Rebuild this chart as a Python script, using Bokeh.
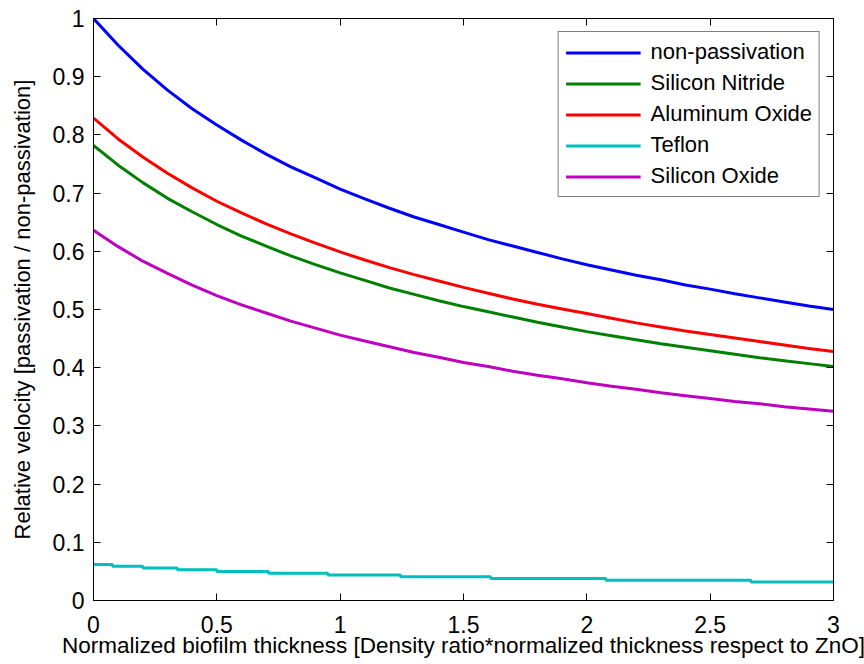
from bokeh.plotting import figure
from bokeh.models import LinearAxis, FixedTicker, Range1d, Legend, LegendItem
from bokeh.embed import file_html
from bokeh.resources import INLINE

# ---- data ----
x_vals = [0.0, 0.1, 0.2, 0.3, 0.4, 0.5, 0.6, 0.7, 0.8, 0.9, 1.0,
          1.1, 1.2, 1.3, 1.4, 1.5, 1.6, 1.7, 1.8, 1.9, 2.0,
          2.1, 2.2, 2.3, 2.4, 2.5, 2.6, 2.7, 2.8, 2.9, 3.0]

non_passivation = [1.000, 0.954, 0.913, 0.877, 0.845, 0.817, 0.791, 0.767, 0.745, 0.726, 0.707,
                   0.690, 0.674, 0.659, 0.646, 0.633, 0.620, 0.609, 0.598, 0.587, 0.577,
                   0.568, 0.559, 0.551, 0.542, 0.535, 0.527, 0.520, 0.513, 0.506, 0.500]

silicon_nitride = [0.782, 0.748, 0.718, 0.691, 0.668, 0.646, 0.626, 0.609, 0.592, 0.577, 0.563,
                   0.550, 0.537, 0.526, 0.515, 0.505, 0.496, 0.487, 0.478, 0.470, 0.462,
                   0.455, 0.448, 0.441, 0.435, 0.429, 0.423, 0.417, 0.412, 0.407, 0.402]

aluminum_oxide = [0.829, 0.793, 0.762, 0.734, 0.709, 0.686, 0.666, 0.647, 0.630, 0.614, 0.599,
                  0.585, 0.572, 0.560, 0.549, 0.538, 0.528, 0.518, 0.509, 0.501, 0.493,
                  0.485, 0.477, 0.470, 0.463, 0.457, 0.451, 0.445, 0.439, 0.433, 0.428]

silicon_oxide = [0.636, 0.608, 0.583, 0.562, 0.542, 0.524, 0.508, 0.494, 0.480, 0.468, 0.456,
                 0.446, 0.436, 0.426, 0.418, 0.409, 0.402, 0.394, 0.387, 0.381, 0.374,
                 0.368, 0.363, 0.357, 0.352, 0.347, 0.342, 0.338, 0.333, 0.329, 0.325]

# Teflon curve is drawn as a staircase (values quantised in the original)
teflon_x = [0.0, 0.077, 0.20, 0.34, 0.50, 0.71, 0.95, 1.245, 1.61, 2.077, 2.665, 3.0]
teflon_y = [0.062, 0.059, 0.056, 0.053, 0.050, 0.047, 0.044, 0.041, 0.038, 0.035, 0.032, 0.032]

series_names = ["non-passivation", "Silicon Nitride", "Aluminum Oxide", "Teflon", "Silicon Oxide"]
series_colors = ["#0000ff", "#008000", "#ff0000", "#00bfbf", "#bf00bf"]

x_ticks = [0, 0.5, 1, 1.5, 2, 2.5, 3]
x_tick_labels = ["0", "0.5", "1", "1.5", "2", "2.5", "3"]
y_ticks = [0, 0.1, 0.2, 0.3, 0.4, 0.5, 0.6, 0.7, 0.8, 0.9, 1]
y_tick_labels = ["0", "0.1", "0.2", "0.3", "0.4", "0.5", "0.6", "0.7", "0.8", "0.9", "1"]

x_label = "Normalized biofilm thickness [Density ratio*normalized thickness respect to ZnO]"
y_label = "Relative velocity [passivation / non-passivation]"

FONT = "Liberation Sans"

p = figure(width=864, height=664, output_backend="svg", toolbar_location=None,
           x_range=Range1d(0, 3), y_range=Range1d(0, 1),
           min_border_left=93, min_border_right=31, min_border_top=18, min_border_bottom=64)

p.xgrid.visible = False
p.ygrid.visible = False
p.outline_line_color = "black"
p.outline_line_width = 1
p.background_fill_color = "white"
p.border_fill_color = "white"

def style_axis(ax, ticks, labels):
    ax.ticker = FixedTicker(ticks=ticks)
    ax.major_label_overrides = {t: l for t, l in zip(ticks, labels)}
    ax.major_tick_in = 7
    ax.major_tick_out = 0
    ax.minor_tick_in = 0
    ax.minor_tick_out = 0
    ax.major_tick_line_color = "black"
    ax.axis_line_color = "black"
    ax.axis_line_width = 1
    ax.major_label_text_font = FONT
    ax.major_label_text_color = "black"
    ax.major_label_text_font_size = "23px"

def mirror_axis(ax, ticks):
    # tick marks only (as minor ticks, which carry no labels)
    ax.ticker = FixedTicker(ticks=[], minor_ticks=ticks)
    ax.major_tick_in = 0
    ax.major_tick_out = 0
    ax.minor_tick_in = 7
    ax.minor_tick_out = 0
    ax.minor_tick_line_color = "black"
    ax.axis_line_color = "black"
    ax.major_label_standoff = 0

xa = p.xaxis[0]
style_axis(xa, x_ticks, x_tick_labels)
xa.major_label_standoff = 15
xa.axis_label = x_label
xa.axis_label_text_font = FONT
xa.axis_label_text_font_size = "22.5px"
xa.axis_label_text_font_style = "normal"
xa.axis_label_text_color = "black"
xa.axis_label_standoff = -3

ya = p.yaxis[0]
style_axis(ya, y_ticks, y_tick_labels)
ya.major_label_standoff = 9
ya.axis_label = y_label
ya.axis_label_text_font = FONT
ya.axis_label_text_font_size = "22px"
ya.axis_label_text_font_style = "normal"
ya.axis_label_text_color = "black"
ya.axis_label_standoff = 15

top_ax = LinearAxis()
mirror_axis(top_ax, x_ticks)
p.add_layout(top_ax, "above")
right_ax = LinearAxis()
mirror_axis(right_ax, y_ticks)
p.add_layout(right_ax, "right")

lw = 3
r1 = p.line(x_vals, non_passivation, line_color=series_colors[0], line_width=lw)
r2 = p.line(x_vals, silicon_nitride, line_color=series_colors[1], line_width=lw)
r3 = p.line(x_vals, aluminum_oxide, line_color=series_colors[2], line_width=lw)
r4 = p.step(teflon_x, teflon_y, mode="after", line_color=series_colors[3], line_width=lw)
r5 = p.line(x_vals, silicon_oxide, line_color=series_colors[4], line_width=lw)

legend = Legend(items=[LegendItem(label=n, renderers=[r]) for n, r in
                       zip(series_names, [r1, r2, r3, r4, r5])],
                location="top_right", margin=13, padding=7, spacing=5,
                glyph_width=75, glyph_height=25, label_standoff=10,
                label_text_font=FONT, label_text_font_size="22px", label_text_color="black",
                border_line_color="black", border_line_width=1,
                background_fill_color="white", background_fill_alpha=1.0)
p.add_layout(legend, "center")

open("out.html", "w").write(file_html(p, INLINE))
